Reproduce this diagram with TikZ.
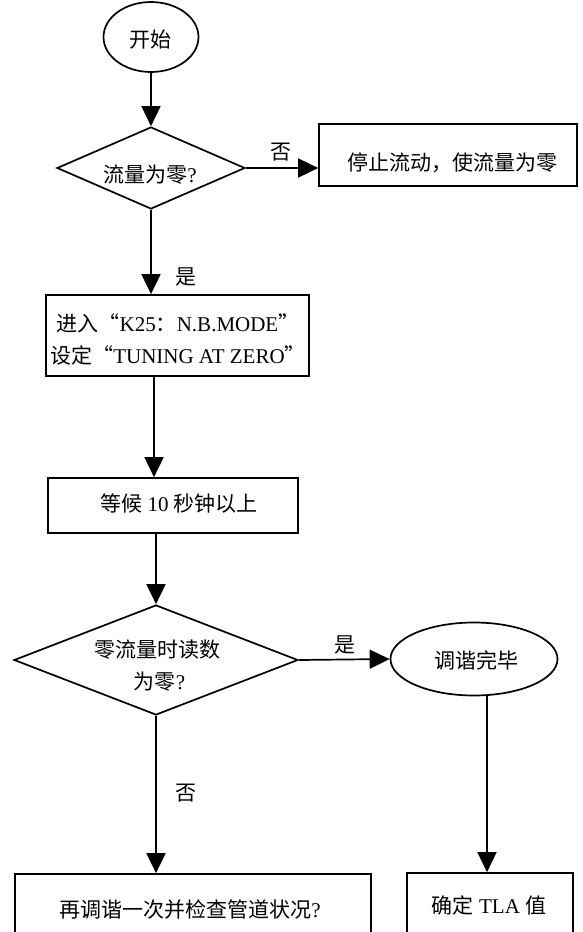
\documentclass[tikz,border=0pt]{standalone}
\usepackage{fontspec}
\setmainfont{Liberation Serif}
\newfontfamily\zh{Noto Sans CJK SC}
\usetikzlibrary{shapes.geometric,arrows.meta}
\begin{document}
\begin{tikzpicture}[x=1pt,y=-1pt,
  every node/.style={font=\fontsize{21}{32}\selectfont},
  flow/.style={line width=1.7pt, -{Triangle[length=20pt,width=19pt]}},
  boxn/.style={draw, line width=1.7pt, rectangle, inner sep=0pt},
  ell/.style={draw, line width=1.7pt, ellipse, inner sep=0pt},
  dia/.style={draw, line width=1.7pt, diamond, inner sep=0pt},
  txt/.style={inner sep=0pt, align=center},
  lab/.style={inner sep=0pt}]
\useasboundingbox (0,0) rectangle (583,932);
\clip (0,0) rectangle (583,932);
% shapes
\node[ell, minimum width=95pt, minimum height=70pt] (start) at (151,37) {};
\node[dia, minimum width=188pt, minimum height=82pt] (d1) at (151,168) {};
\node[boxn, minimum width=258pt, minimum height=62pt] (b1) at (448,155) {};
\node[boxn, minimum width=263pt, minimum height=81pt] (b2) at (177.5,335.5) {};
\node[boxn, minimum width=250pt, minimum height=55pt] (b3) at (173,505.5) {};
\node[dia, minimum width=284pt, minimum height=110pt] (d2) at (156,660) {};
\node[ell, minimum width=167pt, minimum height=73pt] (e2) at (474,659) {};
\node[boxn, minimum width=356pt, minimum height=71pt] (b4) at (193,909.5) {};
\node[boxn, minimum width=166pt, minimum height=72pt] (b5) at (490,909) {};
% texts
\node[txt] (startt) at (150,40) {\zh 开始};
\node[txt] (d1t) at (150,175) {{\zh 流量为零}?};
\node[txt] (b1t) at (452,163) {\zh 停止流动，使流量为零};
\node[txt] (b2t) at (178,339) {{\zh 进入“}K25{\zh ：}N.B.MODE{\zh ”}\\{\zh 设定“}TUNING AT ZERO{\zh ”}};
\node[txt] (b3t) at (179,504) {{\zh 等候} 10 {\zh 秒钟以上}};
\node[txt] (d2t) at (157,666) {{\zh 零流量时读数}\\\hspace*{5pt}{\zh 为零}?};
\node[txt] (e2t) at (476,660) {\zh 调谐完毕};
\node[txt] (b4t) at (190,910) {{\zh 再调谐一次并检查管道状况}?};
\node[txt] (b5t) at (489,905) {{\zh 确定} TLA {\zh 值}};
% labels
\node[lab] (l1) at (281,152) {\zh 否};
\node[lab] (l2) at (186,277) {\zh 是};
\node[lab] (l3) at (345,645) {\zh 是};
\node[lab] (l4) at (186,793) {\zh 否};
% helper coordinates
\coordinate (c2) at (154,0);
\coordinate (c5) at (487,0);
% connectors
\draw[flow] (start.south) -- (d1.north);
\draw[flow] (d1.east) -- (d1.east -| b1.west);
\draw[flow] (d1.south) -- (d1.south |- b2.north);
\draw[flow] (b2.south -| c2) -- (b3.north -| c2);
\draw[flow] (b3.south -| d2.north) -- (d2.north);
\draw[flow] (d2.east) -- (e2.west);
\draw[flow] (e2.south -| c5) -- (b5.north -| c5);
\draw[flow] (d2.south) -- (d2.south |- b4.north);
\end{tikzpicture}
\end{document}
